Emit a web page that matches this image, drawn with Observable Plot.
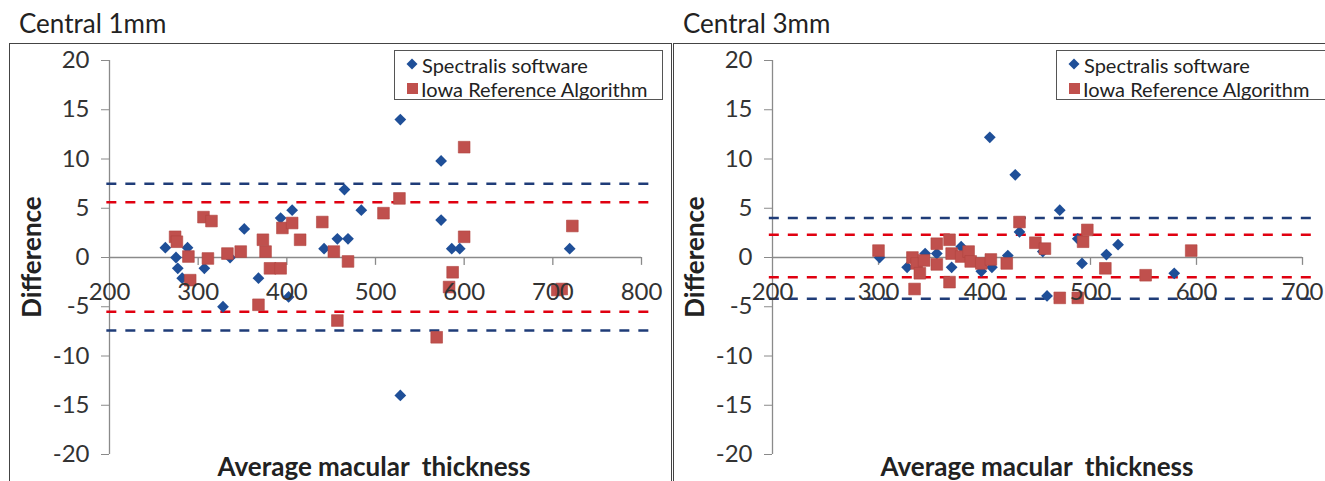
<!DOCTYPE html>
<html><head><meta charset="utf-8">
<script src="https://cdn.jsdelivr.net/npm/d3@7"></script>
<script src="https://cdn.jsdelivr.net/npm/@observablehq/plot@0.6"></script>
<style>
body{margin:0;background:#fff;}
#root{position:relative;width:1325px;height:481px;overflow:hidden;font-family:Lato,sans-serif;color:#222;background:#fff;}
.abs{position:absolute;}
.title{font-size:26px;line-height:1;white-space:nowrap;}
.frame{border:1.5px solid #444;box-sizing:border-box;}
.xlab{font-weight:bold;font-size:26px;line-height:1;transform:translate(-50%,-50%);white-space:pre;}
.ylab{font-weight:bold;font-size:26px;line-height:1;transform:translate(-50%,-50%) rotate(-90deg);white-space:nowrap;}
.legend{border:1.5px solid #555;background:#fff;font-size:20px;box-sizing:border-box;}
.legend .row{position:absolute;white-space:nowrap;line-height:1;}
svg.plot-chart text{font-size:24px;}
</style></head>
<body><div id="root"></div>
<script>
// ---------- data ----------
const seriesNames = ["Spectralis software", "Iowa Reference Algorithm"];
const panelTitles = ["Central 1mm", "Central 3mm"];
const xAxisTitle = "Average macular  thickness";
const yAxisTitle = "Difference";
const yTicks = [-20, -15, -10, -5, 0, 5, 10, 15, 20];
const xTicks1mm = [200, 300, 400, 500, 600, 700, 800];
const xTicks3mm = [200, 300, 400, 500, 600, 700];

const spectralis1mmX = [263,275,277,282,288,307,328,336,352,368,393,402,406,442,457,465,469,484,528,528,574,574,586,595,719];
const spectralis1mmY = [1,0,-1.1,-2.1,1,-1.1,-5,0,2.9,-2.1,4,-4,4.8,0.9,1.9,6.9,1.9,4.8,14,-14,9.8,3.8,0.9,0.9,0.9];
const iowa1mmX = [274,276,289,291,306,315,311,333,348,368,373,376,381,393,395,406,415,440,453,457,469,509,527,600,600,587,583,569,705,710,722];
const iowa1mmY = [2.1,1.6,0.1,-2.3,4.1,3.7,-0.1,0.4,0.6,-4.8,1.8,0.6,-1.1,-1.1,3,3.5,1.8,3.6,0.6,-6.4,-0.4,4.5,6,11.2,2.1,-1.5,-3,-8.1,-3.3,-3.2,3.2];
const limits1mmSpectralis = [-7.4, 7.5];
const limits1mmIowa = [-5.5, 5.6];
const lineSpan1mm = [197, 810];

const spectralis3mmX = [301,327,344,355,369,378,397,405,407,422,429,433,455,459,471,488,492,515,526,579];
const spectralis3mmY = [0,-1,0.4,0.4,-1,1.1,-1.4,12.2,-1,0.2,8.4,2.6,0.6,-3.9,4.8,1.9,-0.6,0.3,1.3,-1.6];
const iowa3mmX = [300,332,334,336,339,343,355,355,367,367,369,378,385,387,397,406,421,433,448,457,471,488,493,497,514,552,595];
const iowa3mmY = [0.7,0,-3.2,-0.6,-1.6,-0.3,1.4,-0.7,1.8,-2.5,0.4,0.1,0.6,-0.4,-0.6,-0.2,-0.6,3.6,1.5,0.9,-4.1,-4.1,1.6,2.8,-1.1,-1.8,0.7];
const limits3mmSpectralis = [-4.2, 4.0];
const limits3mmIowa = [-2.0, 2.3];
const lineSpan3mm = [197, 713];

// ---------- style ----------
const BLUE = "#1F4F98", RED = "#C0504D";
const BLUE_LINE = "#1F3C78", RED_LINE = "#E00010";
const AXIS = "#8a8a8a";

const root = document.getElementById("root");
function add(html){ root.insertAdjacentHTML("beforeend", html); }

function zipXY(xs, ys){ return xs.map((x, i) => ({x, y: ys[i]})); }

function panel(o){
  const s = zipXY(o.sx, o.sy), iw = zipXY(o.ix, o.iy);
  const plot = Plot.plot({
    width: o.width, height: 435,
    marginTop: 14, marginBottom: 27, marginLeft: o.ml, marginRight: o.mr,
    x: {domain: [o.xTicks[0], o.xTicks[o.xTicks.length-1]], axis: null},
    y: {domain: [-20, 20], axis: null},
    style: {fontFamily: "Lato, sans-serif", fontSize: "24px", color: "#333", overflow: "visible", background: "transparent"},
    marks: [
      Plot.ruleY([0], {stroke: AXIS, strokeWidth: 1.3}),
      Plot.ruleX([o.xTicks[0]], {stroke: AXIS, strokeWidth: 1.3}),
      Plot.axisY({ticks: yTicks, tickSize: 8, tickPadding: 12, tickFormat: d => String(d), stroke: AXIS, fill: "#333", fontSize: 24, label: null}),
      Plot.ruleX(o.xTicks.slice(1), {x: d => d, y1: 0, y2: -0.8, stroke: AXIS, strokeWidth: 1.3}),
      Plot.ruleY(o.limS, {y: d => d, x1: o.span[0], x2: o.span[1], stroke: BLUE_LINE, strokeWidth: 2.5, strokeDasharray: "10,9"}),
      Plot.ruleY(o.limI, {y: d => d, x1: o.span[0], x2: o.span[1], stroke: RED_LINE, strokeWidth: 2.5, strokeDasharray: "10,9"}),
      Plot.dot(s, {x: "x", y: "y", symbol: "diamond2", r: 5.3, fill: BLUE, stroke: "none"}),
      Plot.dot(iw, {x: "x", y: "y", symbol: "square", r: 6.6, fill: RED, stroke: "#b04440", strokeWidth: 0.6}),
      Plot.text(o.xTicks, {x: d => d, y: 0, dy: 35, text: d => String(d), fill: "#333", fontSize: 24})
    ]
  });
  plot.classList.add("plot-chart");
  plot.style.position = "absolute";
  plot.style.left = o.left + "px";
  plot.style.top = "46px";
  root.appendChild(plot);
}

// frames
add(`<div class="abs frame" style="left:9px;top:43px;width:663px;height:460px"></div>`);
add(`<div class="abs frame" style="left:673px;top:43px;width:680px;height:460px"></div>`);

panel({sx: spectralis1mmX, sy: spectralis1mmY, ix: iowa1mmX, iy: iowa1mmY,
  limS: limits1mmSpectralis, limI: limits1mmIowa, span: lineSpan1mm, xTicks: xTicks1mm,
  width: 670, left: 0, ml: 109, mr: 29});
panel({sx: spectralis3mmX, sy: spectralis3mmY, ix: iowa3mmX, iy: iowa3mmY,
  limS: limits3mmSpectralis, limI: limits3mmIowa, span: lineSpan3mm, xTicks: xTicks3mm,
  width: 651, left: 674, ml: 98, mr: 23});

// titles
add(`<div class="abs title" style="left:19px;top:10px">${panelTitles[0]}</div>`);
add(`<div class="abs title" style="left:683px;top:10px">${panelTitles[1]}</div>`);

// axis titles
add(`<div class="abs xlab" style="left:374px;top:466px">${xAxisTitle}</div>`);
add(`<div class="abs xlab" style="left:1037px;top:466px">${xAxisTitle}</div>`);
add(`<div class="abs ylab" style="left:31px;top:257px">${yAxisTitle}</div>`);
add(`<div class="abs ylab" style="left:694px;top:257px">${yAxisTitle}</div>`);

// legends
function legend(left, width){
  const diamond = `<svg width="12" height="12" style="position:absolute;left:-16px;top:3px"><path d="M6,0.5L11.5,6L6,11.5L0.5,6Z" fill="${BLUE}"/></svg>`;
  const square = `<svg width="11" height="11" style="position:absolute;left:-14px;top:4px"><rect x="0" y="0" width="11" height="11" fill="${RED}"/></svg>`;
  add(`<div class="abs legend" style="left:${left}px;top:50px;width:${width}px;height:50px">
    <div class="row" style="left:27px;top:4px">${diamond}${seriesNames[0]}</div>
    <div class="row" style="left:26px;top:28px">${square}${seriesNames[1]}</div>
  </div>`);
}
legend(394, 269);
legend(1056, 300);
</script>
</body></html>
